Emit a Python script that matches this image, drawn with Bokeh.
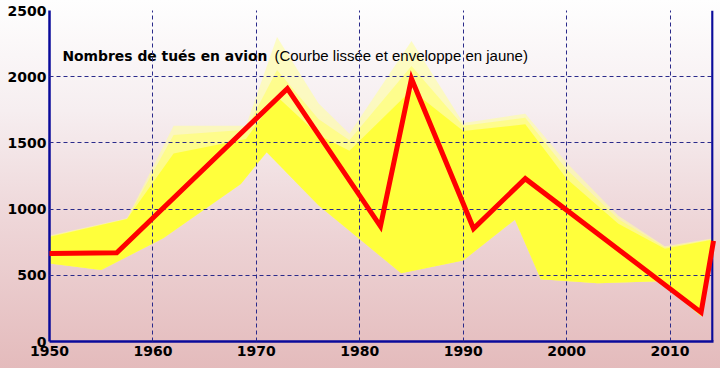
from bokeh.plotting import figure
from bokeh.models import Range1d, Span, FixedTicker
from bokeh.core.properties import value
from bokeh.embed import file_html
from bokeh.resources import INLINE

# Red smoothed curve
line_years = [1950, 1956.5, 1973, 1982, 1985, 1991, 1996, 2013, 2014.2]
line_deaths = [665, 670, 1910, 870, 1985, 853, 1230, 220, 760]

# Envelope upper boundary (outer faint and inner stronger)
upper_years = [1950, 1957.5, 1962, 1969, 1972, 1976, 1979, 1985, 1990, 1996, 2000, 2005, 2009.5, 2014.2]
upper_outer = [800, 930, 1630, 1630, 2300, 1800, 1570, 2270, 1650, 1720, 1350, 950, 720, 780]
upper_mid = [795, 928, 1560, 1600, 2050, 1680, 1520, 2080, 1630, 1690, 1300, 925, 710, 775]
upper_inner = [790, 925, 1420, 1530, 1850, 1560, 1440, 1900, 1590, 1640, 1230, 890, 700, 770]

# Envelope lower boundary
lower_years = [1950, 1955, 1961, 1968.5, 1971, 1976, 1984, 1990, 1995, 1997.5, 2003, 2009, 2013, 2014.2]
lower_deaths = [590, 540, 780, 1190, 1430, 1030, 515, 612, 920, 470, 440, 455, 190, 650]

x_ticks = [1950, 1960, 1970, 1980, 1990, 2000, 2010]
y_ticks = [0, 500, 1000, 1500, 2000, 2500]

title_bold = "Nombres de tués en avion"
title_normal = "(Courbe lissée et enveloppe en jaune)"

p = figure(width=720, height=368, output_backend="svg", toolbar_location=None,
           x_range=Range1d(1950, 2014.2), y_range=Range1d(0, 2500))
p.min_border_left = 49
p.min_border_right = 7
p.min_border_top = 10
p.min_border_bottom = 27
p.border_fill_color = None
p.background_fill_color = None
p.outline_line_color = None
p.styles = {"background": "linear-gradient(to bottom, #fefefe 0%, #f6eef0 30%, #eed6d8 60%, #e4bbbc 100%)"}

# envelope layers
rev_lx = list(reversed(lower_years))
rev_ly = list(reversed(lower_deaths))
p.patch(upper_years + rev_lx, upper_outer + rev_ly, fill_color="#ffffa0", fill_alpha=0.6, line_color=None)
p.patch(upper_years + rev_lx, upper_mid + rev_ly, fill_color="#ffff70", fill_alpha=0.65, line_color=None)
p.patch(upper_years + rev_lx, upper_inner + rev_ly, fill_color="#ffff33", fill_alpha=0.9, line_color=None)

curve = p.line(line_years, line_deaths, line_color="#ff0000", line_width=5, line_join="miter")
curve.level = "overlay"

# grid
for g in (p.xgrid, p.ygrid):
    g.grid_line_color = "#2a2a8a"
    g.grid_line_dash = "4 3"
    g.grid_line_width = 1
    g.level = "annotation"
p.xaxis.ticker = FixedTicker(ticks=x_ticks)
p.yaxis.ticker = FixedTicker(ticks=y_ticks)

for ax in (p.xaxis, p.yaxis):
    ax.axis_line_color = "#0a0a9a"
    ax.axis_line_width = 2.5
    ax.major_tick_line_color = None
    ax.minor_tick_line_color = None
    ax.major_tick_out = 0
    ax.major_tick_in = 0
    ax.major_label_text_font = "DejaVu Sans"
    ax.major_label_text_font_style = "bold"
    ax.major_label_text_font_size = "14px"
    ax.major_label_text_color = "#000000"
p.xaxis.major_label_standoff = 4
p.yaxis.major_label_standoff = 3

p.add_layout(Span(location=2014.1, dimension="height", line_color="#0a0a9a", line_width=2.5))

p.text(x=[1951.25], y=[2160], text=[title_bold], text_font=value("DejaVu Sans"),
       text_font_style="bold", text_font_size="13.9px", text_baseline="middle", text_color="#000000")
p.text(x=[1971.75], y=[2160], text=[title_normal], text_font=value("Liberation Sans"),
       text_font_size="15px", text_baseline="middle", text_color="#000000")

open("out.html", "w").write(file_html(p, INLINE))
